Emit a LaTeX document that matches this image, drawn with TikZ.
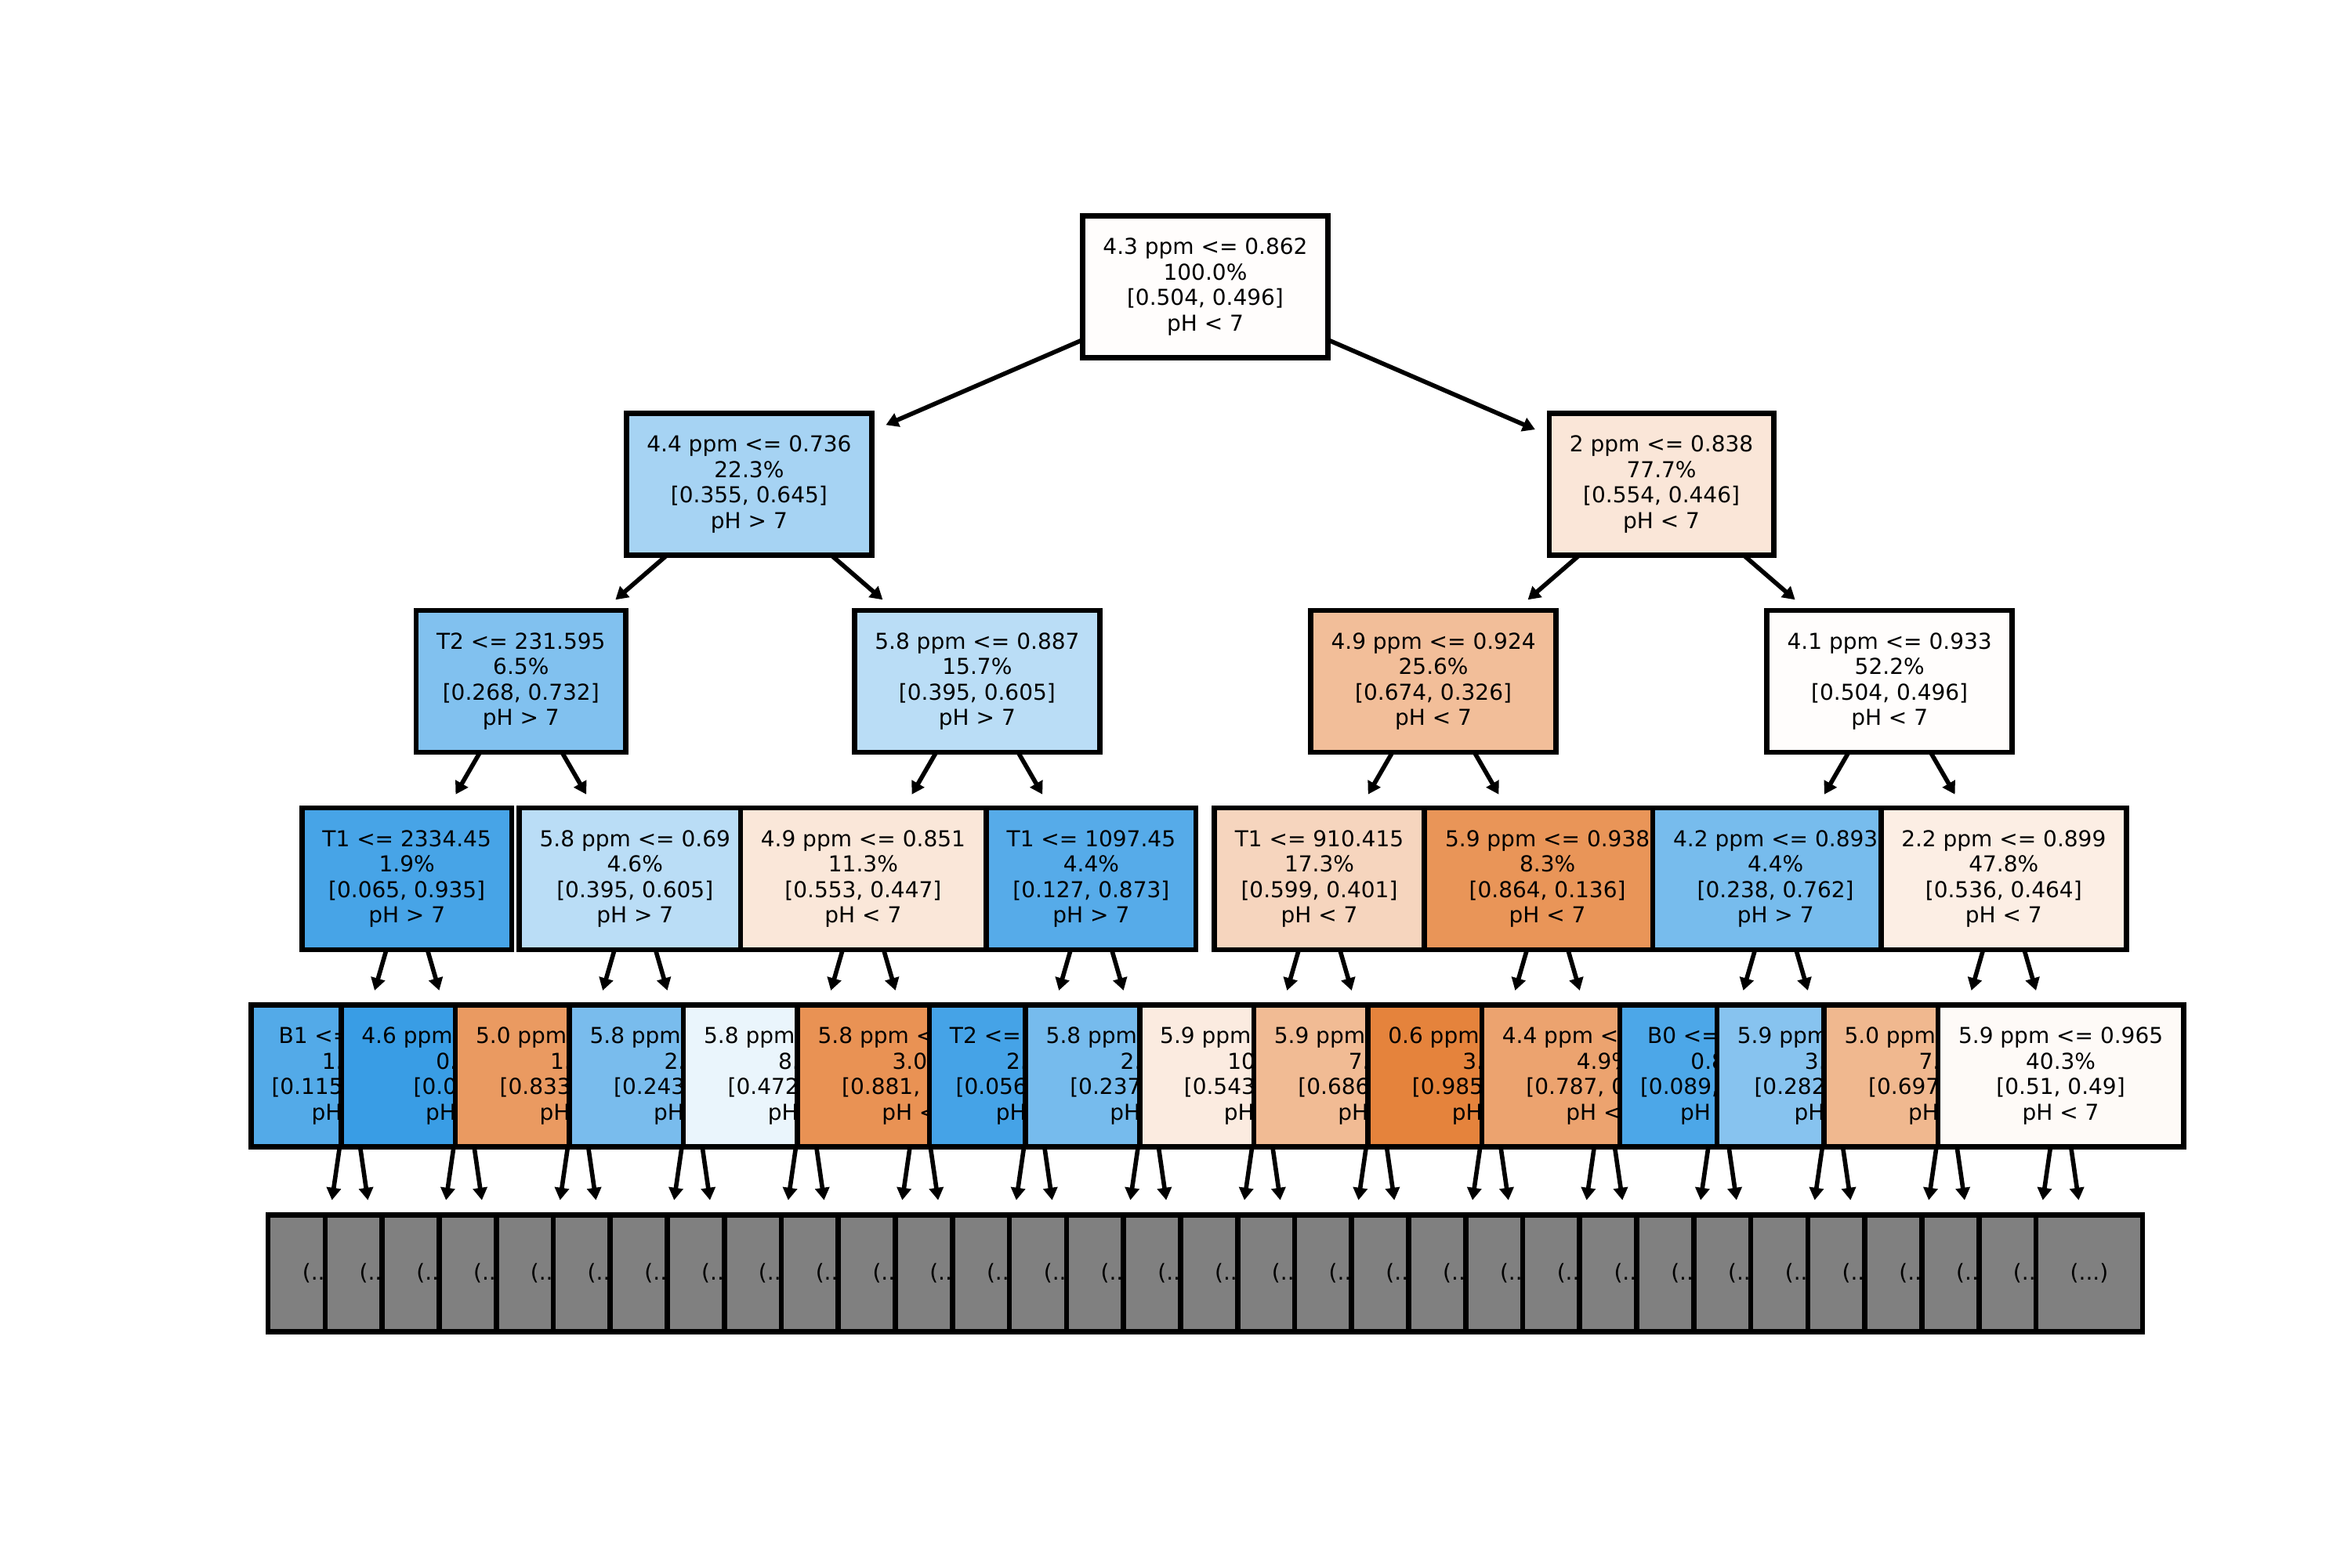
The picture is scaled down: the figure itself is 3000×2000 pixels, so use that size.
\documentclass[tikz,border=0pt]{standalone}
\usepackage{fontspec}
\setmainfont{DejaVu Sans}
\usetikzlibrary{arrows.meta}

\definecolor{sko}{RGB}{229,129,57}
\definecolor{skb}{RGB}{57,157,229}
\definecolor{sktrunc}{RGB}{128,128,128}

\newcommand{\tfont}{\fontsize{6.72pt}{7.8pt}\selectfont}
% split rule, share of samples, class proportions, predicted class
\newcommand{\tl}[4]{#1\\#2\\{}[#3]\\pH #4}

\pgfdeclarelayer{bg}
\pgfdeclarelayer{d5}
\pgfdeclarelayer{d4}
\pgfdeclarelayer{d3}
\pgfdeclarelayer{d2}
\pgfdeclarelayer{d1}
\pgfsetlayers{bg,d5,d4,d3,d2,d1,main}

\tikzset{
  tn/.style={draw=black, line width=1.6pt, inner xsep=6.24pt, inner ysep=0pt,
    minimum height=43.44pt, align=center, font=\tfont},
  leafbox/.style={tn, fill=sktrunc, minimum width=32.64pt, minimum height=35.64pt},
  arr/.style={draw=black, line width=1.35pt,
    -{Triangle[length=3.8pt,width=4.3pt]}, shorten >=3.84pt}
}

\begin{document}
\begin{tikzpicture}[x=0.24pt, y=-0.24pt]
\begin{pgfonlayer}{bg}
  \fill[white] (0,0) rectangle (3000,2000);
\end{pgfonlayer}
\useasboundingbox (0,0) rectangle (3000,2000);

% depth 0
\node[tn, fill=sko!1.59!white] (r) at (1538,366)
  {\tl{4.3 ppm <= 0.862}{100.0\%}{0.504, 0.496}{< 7}};

% depth 1
\begin{pgfonlayer}{d1}
\node[tn, fill=skb!44.96!white] (n10) at (955.9,617.8)
  {\tl{4.4 ppm <= 0.736}{22.3\%}{0.355, 0.645}{> 7}};
\draw[arr] (r.center) -- (n10);
\node[tn, fill=sko!19.49!white] (n11) at (2120.1,617.8)
  {\tl{2 ppm <= 0.838}{77.7\%}{0.554, 0.446}{< 7}};
\draw[arr] (r.center) -- (n11);
\end{pgfonlayer}

% depth 2
\begin{pgfonlayer}{d2}
\node[tn, fill=skb!63.39!white] (n20) at (664.8,869.6)
  {\tl{T2 <= 231.595}{6.5\%}{0.268, 0.732}{> 7}};
\draw[arr] (n10.center) -- (n20);
\node[tn, fill=skb!34.71!white] (n21) at (1246.9,869.6)
  {\tl{5.8 ppm <= 0.887}{15.7\%}{0.395, 0.605}{> 7}};
\draw[arr] (n10.center) -- (n21);
\node[tn, fill=sko!51.63!white] (n22) at (1829.1,869.6)
  {\tl{4.9 ppm <= 0.924}{25.6\%}{0.674, 0.326}{< 7}};
\draw[arr] (n11.center) -- (n22);
\node[tn, fill=sko!1.59!white] (n23) at (2411.2,869.6)
  {\tl{4.1 ppm <= 0.933}{52.2\%}{0.504, 0.496}{< 7}};
\draw[arr] (n11.center) -- (n23);
\end{pgfonlayer}

% depth 3
\begin{pgfonlayer}{d3}
\node[tn, fill=skb!93.05!white] (n30) at (519.2,1121.4)
  {\tl{T1 <= 2334.45}{1.9\%}{0.065, 0.935}{> 7}};
\draw[arr] (n20.center) -- (n30);
\node[tn, fill=skb!34.71!white] (n31) at (810.3,1121.4)
  {\tl{5.8 ppm <= 0.69}{4.6\%}{0.395, 0.605}{> 7}};
\draw[arr] (n20.center) -- (n31);
\node[tn, fill=sko!19.17!white] (n32) at (1101.4,1121.4)
  {\tl{4.9 ppm <= 0.851}{11.3\%}{0.553, 0.447}{< 7}};
\draw[arr] (n21.center) -- (n32);
\node[tn, fill=skb!85.45!white] (n33) at (1392.4,1121.4)
  {\tl{T1 <= 1097.45}{4.4\%}{0.127, 0.873}{> 7}};
\draw[arr] (n21.center) -- (n33);
\node[tn, fill=sko!33.06!white] (n34) at (1683.5,1121.4)
  {\tl{T1 <= 910.415}{17.3\%}{0.599, 0.401}{< 7}};
\draw[arr] (n22.center) -- (n34);
\node[tn, fill=sko!84.26!white] (n35) at (1974.6,1121.4)
  {\tl{5.9 ppm <= 0.938}{8.3\%}{0.864, 0.136}{< 7}};
\draw[arr] (n22.center) -- (n35);
\node[tn, fill=skb!68.77!white] (n36) at (2265.7,1121.4)
  {\tl{4.2 ppm <= 0.893}{4.4\%}{0.238, 0.762}{> 7}};
\draw[arr] (n23.center) -- (n36);
\node[tn, fill=sko!13.43!white] (n37) at (2556.8,1121.4)
  {\tl{2.2 ppm <= 0.899}{47.8\%}{0.536, 0.464}{< 7}};
\draw[arr] (n23.center) -- (n37);
\end{pgfonlayer}

% depth 4
\begin{pgfonlayer}{d4}
\node[tn, fill=skb!87.01!white] (n40) at (446.5,1373.2)
  {\tl{B1 <= 0.524}{1.0\%}{0.115, 0.885}{> 7}};
\draw[arr] (n30.center) -- (n40);
\node[tn, fill=skb] (n41) at (592.0,1373.2)
  {\tl{4.6 ppm <= 0.791}{0.9\%}{0.0, 1.0}{> 7}};
\draw[arr] (n30.center) -- (n41);
\node[tn, fill=sko!79.95!white] (n42) at (737.6,1373.2)
  {\tl{5.0 ppm <= 0.846}{1.9\%}{0.833, 0.167}{< 7}};
\draw[arr] (n31.center) -- (n42);
\node[tn, fill=skb!67.9!white] (n43) at (883.1,1373.2)
  {\tl{5.8 ppm <= 0.652}{2.7\%}{0.243, 0.757}{> 7}};
\draw[arr] (n31.center) -- (n43);
\node[tn, fill=skb!10.6!white] (n44) at (1028.7,1373.2)
  {\tl{5.8 ppm <= 0.713}{8.3\%}{0.472, 0.528}{> 7}};
\draw[arr] (n32.center) -- (n44);
\node[tn, fill=sko!86.49!white] (n45) at (1174.2,1373.2)
  {\tl{5.8 ppm <= 0.892}{3.0\%}{0.881, 0.119}{< 7}};
\draw[arr] (n32.center) -- (n45);
\node[tn, fill=skb!94.07!white] (n46) at (1319.7,1373.2)
  {\tl{T2 <= 212.345}{2.1\%}{0.056, 0.944}{> 7}};
\draw[arr] (n33.center) -- (n46);
\node[tn, fill=skb!68.94!white] (n47) at (1465.3,1373.2)
  {\tl{5.8 ppm <= 0.671}{2.3\%}{0.237, 0.763}{> 7}};
\draw[arr] (n33.center) -- (n47);
\node[tn, fill=sko!15.84!white] (n48) at (1610.8,1373.2)
  {\tl{5.9 ppm <= 0.905}{10.2\%}{0.543, 0.457}{< 7}};
\draw[arr] (n34.center) -- (n48);
\node[tn, fill=sko!54.23!white] (n49) at (1756.4,1373.2)
  {\tl{5.9 ppm <= 0.917}{7.1\%}{0.686, 0.314}{< 7}};
\draw[arr] (n34.center) -- (n49);
\node[tn, fill=sko!98.48!white] (n410) at (1901.9,1373.2)
  {\tl{0.6 ppm <= 0.874}{3.4\%}{0.985, 0.015}{< 7}};
\draw[arr] (n35.center) -- (n410);
\node[tn, fill=sko!72.94!white] (n411) at (2047.4,1373.2)
  {\tl{4.4 ppm <= 0.758}{4.9\%}{0.787, 0.213}{< 7}};
\draw[arr] (n35.center) -- (n411);
\node[tn, fill=skb!90.23!white] (n412) at (2193.0,1373.2)
  {\tl{B0 <= 0.412}{0.8\%}{0.089, 0.911}{> 7}};
\draw[arr] (n36.center) -- (n412);
\node[tn, fill=skb!60.72!white] (n413) at (2338.5,1373.2)
  {\tl{5.9 ppm <= 0.97}{3.6\%}{0.282, 0.718}{> 7}};
\draw[arr] (n36.center) -- (n413);
\node[tn, fill=sko!56.53!white] (n414) at (2484.1,1373.2)
  {\tl{5.0 ppm <= 0.903}{7.5\%}{0.697, 0.303}{< 7}};
\draw[arr] (n37.center) -- (n414);
\node[tn, fill=sko!3.92!white] (n415) at (2629.6,1373.2)
  {\tl{5.9 ppm <= 0.965}{40.3\%}{0.51, 0.49}{< 7}};
\draw[arr] (n37.center) -- (n415);
\end{pgfonlayer}

% depth 5: truncated subtrees
\begin{pgfonlayer}{d5}
\foreach \i in {0,...,31} {
  \pgfmathtruncatemacro{\pidx}{int(\i/2)}
  \node[leafbox] (l\i) at ({410.1+72.77*\i},1625) {(...)};
  \draw[arr] (n4\pidx.center) -- (l\i);
}
\end{pgfonlayer}
\end{tikzpicture}
\end{document}
